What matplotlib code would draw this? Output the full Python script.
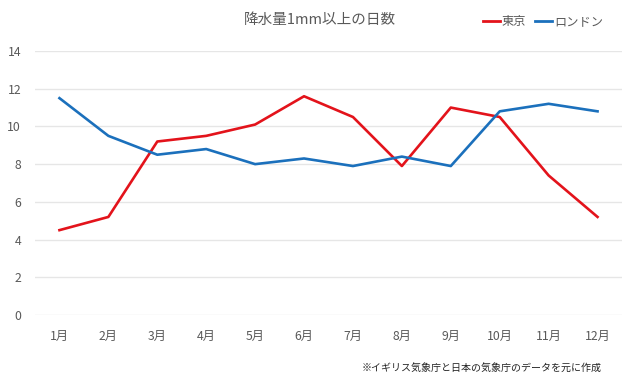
import matplotlib
matplotlib.use("Agg")
import matplotlib.pyplot as plt
from matplotlib.lines import Line2D

plt.rcParams['font.family'] = ['Noto Sans CJK JP', 'DejaVu Sans']

months = ["1月", "2月", "3月", "4月", "5月", "6月", "7月", "8月", "9月", "10月", "11月", "12月"]
tokyo = [4.5, 5.2, 9.2, 9.5, 10.1, 11.6, 10.5, 7.9, 11.0, 10.5, 7.4, 5.2]
london = [11.5, 9.5, 8.5, 8.8, 8.0, 8.3, 7.9, 8.4, 7.9, 10.8, 11.2, 10.8]
yticks = [0, 2, 4, 6, 8, 10, 12, 14]

red = '#E3131B'
blue = '#1B70BC'
gray = '#595959'

fig = plt.figure(figsize=(6.4, 3.86), dpi=100)
ax = fig.add_axes([35/640, 1-315/386, (622-35)/640, (315-51)/386])
x = list(range(len(months)))
ax.plot(x, tokyo, color=red, lw=1.9, clip_on=False, zorder=3)
ax.plot(x, london, color=blue, lw=1.9, clip_on=False, zorder=3)
ax.set_xlim(-0.5, 11.5)
ax.set_ylim(0, 14)
ax.set_yticks(yticks)
ax.set_xticks(x)
ax.set_xticklabels(months)
ax.grid(axis='y', color='#E6E6E6', lw=1)
ax.set_axisbelow(True)
for s in ax.spines.values():
    s.set_visible(False)
ax.tick_params(axis='both', length=0, colors=gray, labelsize=8.8)
ax.tick_params(axis='x', pad=11)
ax.tick_params(axis='y', pad=10)

fig.text(0.5, 1-20/386, "降水量1mm以上の日数", ha='center', va='center', fontsize=10.5, color=gray)

handles = [Line2D([], [], color=red, lw=2), Line2D([], [], color=blue, lw=2)]
fig.legend(handles, ["東京", "ロンドン"], loc='center', bbox_to_anchor=(543/640, 1-22/386),
           ncol=2, frameon=False, fontsize=8.8, handlelength=1.4, handletextpad=0.15,
           columnspacing=0.7, labelcolor=gray)

fig.text(602/640, 1-368/386, "※イギリス気象庁と日本の気象庁のデータを元に作成", ha='right', va='center',
         fontsize=7.2, color='#222222')

fig.savefig("out.png", dpi=100, facecolor='white')
